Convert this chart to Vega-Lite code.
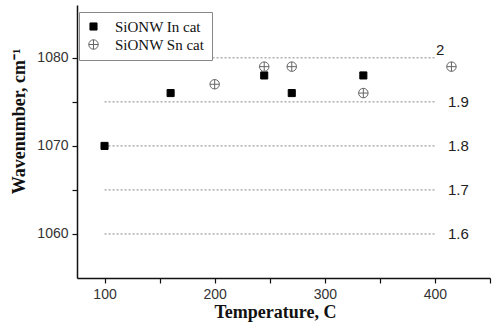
{
  "$schema": "https://vega.github.io/schema/vega-lite/v6.json",
  "width": 413,
  "height": 273,
  "autosize": "none",
  "padding": {"left": 77, "top": 5, "right": 5, "bottom": 44},
  "background": "white",
  "config": {
    "view": {"stroke": null},
    "axis": {
      "grid": false,
      "domainColor": "#111",
      "domainWidth": 1.5,
      "tickColor": "#111",
      "tickWidth": 1.2,
      "tickSize": 5,
      "labelFont": "Liberation Sans",
      "labelFontSize": 14,
      "labelColor": "#333",
      "titleFont": "Liberation Serif",
      "titleFontWeight": "bold",
      "titleFontSize": 18,
      "titleColor": "#111"
    }
  },
  "datasets": {
    "points": [
      {"temperature": 100, "wavenumber": 1070, "series": "SiONW In cat"},
      {"temperature": 160, "wavenumber": 1076, "series": "SiONW In cat"},
      {"temperature": 245, "wavenumber": 1078, "series": "SiONW In cat"},
      {"temperature": 270, "wavenumber": 1076, "series": "SiONW In cat"},
      {"temperature": 335, "wavenumber": 1078, "series": "SiONW In cat"},
      {"temperature": 200, "wavenumber": 1077, "series": "SiONW Sn cat"},
      {"temperature": 245, "wavenumber": 1079, "series": "SiONW Sn cat"},
      {"temperature": 270, "wavenumber": 1079, "series": "SiONW Sn cat"},
      {"temperature": 335, "wavenumber": 1076, "series": "SiONW Sn cat"},
      {"temperature": 415, "wavenumber": 1079, "series": "SiONW Sn cat"}
    ],
    "levels": [
      {"wavenumber": 1080, "label": "2", "start": 100, "end": 400},
      {"wavenumber": 1075, "label": "1.9", "start": 100, "end": 400},
      {"wavenumber": 1070, "label": "1.8", "start": 100, "end": 400},
      {"wavenumber": 1065, "label": "1.7", "start": 100, "end": 400},
      {"wavenumber": 1060, "label": "1.6", "start": 100, "end": 400}
    ]
  },
  "layer": [
    {
      "data": {"name": "levels"},
      "mark": {"type": "rule", "color": "#888", "strokeWidth": 1, "strokeDash": [2, 2]},
      "encoding": {
        "x": {"field": "start", "type": "quantitative"},
        "x2": {"field": "end"},
        "y": {"field": "wavenumber", "type": "quantitative"}
      }
    },
    {
      "data": {"name": "levels"},
      "transform": [{"filter": "datum.label == '2'"}],
      "mark": {"type": "text", "font": "Liberation Sans", "fontSize": 15, "color": "#222", "align": "left", "baseline": "middle", "dx": 1, "dy": -8},
      "encoding": {
        "x": {"field": "end", "type": "quantitative"},
        "y": {"field": "wavenumber", "type": "quantitative"},
        "text": {"field": "label"}
      }
    },
    {
      "data": {"name": "levels"},
      "transform": [{"filter": "datum.label != '2'"}],
      "mark": {"type": "text", "font": "Liberation Sans", "fontSize": 15, "color": "#222", "align": "left", "baseline": "middle", "dx": 13, "dy": 0},
      "encoding": {
        "x": {"field": "end", "type": "quantitative"},
        "y": {"field": "wavenumber", "type": "quantitative"},
        "text": {"field": "label"}
      }
    },
    {
      "data": {"name": "points"},
      "mark": {"type": "point", "filled": false, "opacity": 1, "strokeWidth": 1},
      "encoding": {
        "x": {
          "field": "temperature", "type": "quantitative",
          "scale": {"domain": [75, 450], "nice": false, "zero": false},
          "axis": {
            "title": "Temperature, C",
            "values": [100, 150, 200, 250, 300, 350, 400, 450],
            "format": "d",
            "labelExpr": "datum.value % 100 == 0 ? datum.label : ''",
            "labelPadding": 4,
            "titlePadding": 2,
            "titleX": 198
          }
        },
        "y": {
          "field": "wavenumber", "type": "quantitative",
          "scale": {"domain": [1055, 1086], "nice": false, "zero": false},
          "axis": {
            "title": "Wavenumber, cm⁻¹",
            "values": [1060, 1065, 1070, 1075, 1080],
            "format": "d",
            "labelExpr": "datum.value % 10 == 0 ? datum.label : ''",
            "labelPadding": 4,
            "titlePadding": 8,
            "titleY": 116
          }
        },
        "shape": {
          "field": "series", "type": "nominal",
          "scale": {"domain": ["SiONW In cat", "SiONW Sn cat"], "range": ["square", "M-1,0A1,1,0,1,1,1,0A1,1,0,1,1,-1,0Z M-1,0L1,0 M0,-1L0,1"]},
          "legend": {
            "title": null,
            "orient": "none",
            "legendX": 2,
            "legendY": 7,
            "padding": 7,
            "strokeColor": "#888",
            "fillColor": "white",
            "labelFont": "Liberation Serif",
            "labelFontSize": 15,
            "labelColor": "#111",
            "labelOffset": 14,
            "rowPadding": 2,
            "symbolStrokeWidth": 1
          }
        },
        "fill": {
          "field": "series", "type": "nominal",
          "scale": {"domain": ["SiONW In cat", "SiONW Sn cat"], "range": ["#000", "transparent"]}
        },
        "stroke": {
          "field": "series", "type": "nominal",
          "scale": {"domain": ["SiONW In cat", "SiONW Sn cat"], "range": ["#000", "#666"]}
        },
        "size": {
          "field": "series", "type": "nominal",
          "scale": {"domain": ["SiONW In cat", "SiONW Sn cat"], "range": [50, 90]}
        }
      }
    }
  ]
}
